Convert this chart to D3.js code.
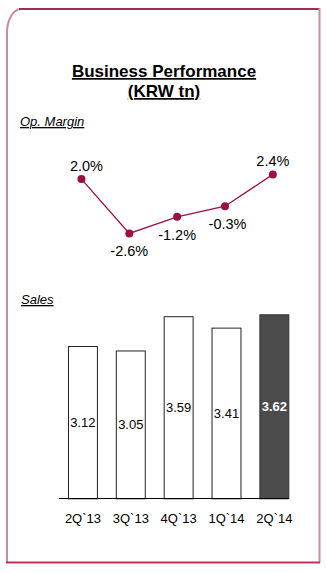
<!DOCTYPE html>
<html><head><meta charset="utf-8">
<script src="https://cdn.jsdelivr.net/npm/d3@7"></script>
<style>body{margin:0;background:#fff;}svg{display:block;font-family:Arial,"Liberation Sans",sans-serif;}</style>
</head><body>
<svg id="c" width="326" height="573"></svg>
<script>
const categories = ["2Q`13","3Q`13","4Q`13","1Q`14","2Q`14"];
const opMargin = [2.0, -2.6, -1.2, -0.3, 2.4];
const opMarginLabels = ["2.0%","-2.6%","-1.2%","-0.3%","2.4%"];
const sales = [3.12, 3.05, 3.59, 3.41, 3.62];
const salesLabels = ["3.12","3.05","3.59","3.41","3.62"];

const svg = d3.select("#c");
const maroon = "#9c0f45";

// frame
svg.append("path").attr("d","M7,562 L7,33 A14,24 0 0 1 21,9").attr("fill","none").attr("stroke","#d088a2").attr("stroke-width",2);
svg.append("line").attr("x1",19).attr("x2",320).attr("y1",9).attr("y2",9).attr("stroke","#a52a52").attr("stroke-width",2);
svg.append("line").attr("x1",319.5).attr("x2",319.5).attr("y1",8).attr("y2",563).attr("stroke","#d088a2").attr("stroke-width",2);
svg.append("line").attr("x1",6).attr("x2",320).attr("y1",562.5).attr("y2",562.5).attr("stroke","#c0305a").attr("stroke-width",2);

// titles
const t = svg.append("text").attr("text-anchor","middle").attr("font-weight","bold").attr("font-size",17).attr("fill","#000").attr("text-decoration","underline");
t.append("tspan").attr("x",164).attr("y",77).text("Business Performance");
t.append("tspan").attr("x",164).attr("y",97).text("(KRW tn)");

svg.append("text").attr("x",20).attr("y",126).attr("font-size",13).attr("font-style","italic").attr("text-decoration","underline").text("Op. Margin");
svg.append("text").attr("x",21).attr("y",304).attr("font-size",13).attr("font-style","italic").attr("text-decoration","underline").text("Sales");

// scales
const x = d3.scaleBand().domain(categories).range([58.4,297.9]).paddingInner(0.395).paddingOuter(0.2);
const yl = d3.scaleLinear().domain([-3,3]).range([238.1,167.3]);
const yb = d3.scaleLinear().domain([0.72,3.62]).range([498.3,314.3]);

// line chart
const cx = (d,i) => x(categories[i]) + x.bandwidth()/2 - 1;
const line = d3.line().x((d,i)=>cx(d,i)).y(d=>yl(d));
svg.append("path").datum(opMargin).attr("d",line).attr("fill","none").attr("stroke",maroon).attr("stroke-width",1.3);
svg.selectAll("circle.pt").data(opMargin).join("circle").attr("class","pt")
  .attr("cx",cx).attr("cy",d=>yl(d)).attr("r",4).attr("fill",maroon);
svg.selectAll("text.ml").data(opMargin).join("text").attr("class","ml")
  .attr("x",(d,i)=>cx(d,i) + (i===0?5:(i===3?2.5:0)))
  .attr("y",(d,i)=> d>=0 ? yl(d)-8 : yl(d)+23)
  .attr("text-anchor","middle").attr("font-size",14.5).attr("fill","#000")
  .text((d,i)=>opMarginLabels[i]);

// bars
svg.selectAll("rect.bar").data(sales).join("rect").attr("class","bar")
  .attr("x",(d,i)=>x(categories[i])+0.5).attr("y",d=>yb(d)+0.5)
  .attr("width",x.bandwidth()).attr("height",d=>yb.range()[0]-yb(d))
  .attr("fill",(d,i)=> i===4 ? "#4b4b4b" : "#fff")
  .attr("stroke",(d,i)=> i===4 ? "#333" : "#222").attr("stroke-width",1);
svg.selectAll("text.bl").data(sales).join("text").attr("class","bl")
  .attr("x",(d,i)=>x(categories[i])+x.bandwidth()/2+0.5)
  .attr("y",d=>(yb(d)+yb.range()[0])/2+5)
  .attr("text-anchor","middle").attr("font-size",13)
  .attr("font-weight",(d,i)=> i===4 ? "bold":"normal")
  .attr("fill",(d,i)=> i===4 ? "#fff" : "#000")
  .text((d,i)=>salesLabels[i]);

// baseline
svg.append("line").attr("x1",59).attr("x2",289).attr("y1",498.5).attr("y2",498.5).attr("stroke","#000").attr("stroke-width",1.2);

// x axis labels
const ax = d3.axisBottom(x).tickSize(0).tickPadding(0);
const g = svg.append("g").attr("transform","translate(0.5,514)").call(ax);
g.select(".domain").remove();
g.selectAll("text").attr("font-size",13).attr("font-family","Arial, 'Liberation Sans', sans-serif").attr("fill","#000").attr("dy","0.71em");
</script>
</body></html>
